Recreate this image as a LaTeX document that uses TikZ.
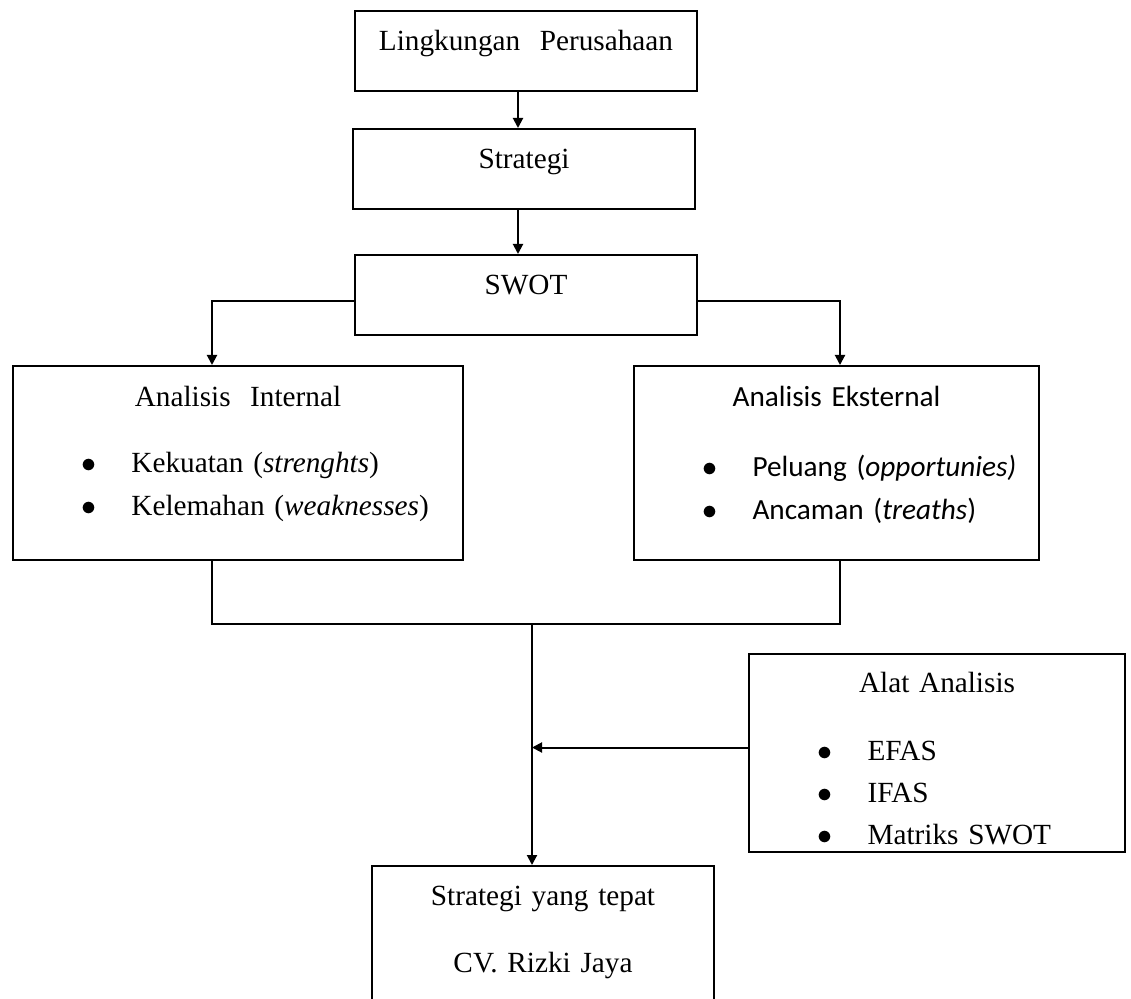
\documentclass[tikz,border=0pt]{standalone}
\usepackage{fontspec}
\setmainfont{Liberation Serif}
\newfontfamily\calibrifont{Carlito}
\usetikzlibrary{arrows.meta}

\newcommand{\bulletitem}[1]{\hspace*{30.4pt}\makebox[0pt]{$\bullet$}\hspace{17pt}#1\par}

\begin{document}
\begin{tikzpicture}[
				x=0.4pt, y=-0.4pt,
				font=\fontsize{11.7pt}{16.8pt}\selectfont,
				box/.style={draw, line width=0.8pt, inner sep=0pt},
				link/.style={line width=0.8pt},
				arr/.style={line width=0.8pt, -{Triangle[width=4pt, length=4pt]}}]
				
				\useasboundingbox (0,0) rectangle (1131,998);
				\clip (0,0) rectangle (1131,998); % the last box runs off the page
				
				\node[box, align=center, text width=136.8pt, text height=16pt, text depth=16pt] (lingkungan) at (526,51) {Lingkungan\ \ Perusahaan};
				\node[box, align=center, text width=136.8pt, text height=16pt, text depth=16pt] (strategi) at (524,169) {Strategi};
				\node[box, align=center, text width=136.8pt, text height=16pt, text depth=16pt] (swot) at (526,295) {SWOT};
				
				\node[box, text width=180pt, text height=16.4pt, text depth=61.2pt] (internal) at (238,463)
				{{\centering Analisis\ \ Internal\par}\vspace{9.6pt}
					\bulletitem{Kekuatan (\textit{strenghts})}
					\bulletitem{Kelemahan (\textit{weaknesses})}};
				\node[box, text width=162pt, text height=16.4pt, text depth=61.2pt] (external) at (836.5,463)
				{\calibrifont{\centering Analisis Eksternal\par}\vspace{11.2pt}
					\bulletitem{Peluang (\textit{opportunies)}}
					\bulletitem{Ancaman (\textit{treaths})}};
				
				\node[box, text width=150.4pt, text height=15.2pt, text depth=64pt] (alat) at (937,753)
				{{\centering Alat Analisis\par}\vspace{10.4pt}
					\bulletitem{EFAS}
					\bulletitem{IFAS}
					\bulletitem{Matriks SWOT}};
				\node[box, align=center, text width=136.8pt, text height=15.6pt, text depth=42pt] (hasil) at (543,938)
				{Strategi yang tepat\\[10pt] CV. Rizki Jaya};
				
				\coordinate (join) at (532,624);
				
				\draw[arr] ([xshift=-3.2pt]lingkungan.south) -- ([xshift=-3.2pt]lingkungan.south |- strategi.north);
				\draw[arr] ([xshift=-2.4pt]strategi.south) -- ([xshift=-2.4pt]strategi.south |- swot.north);
				\draw[arr] ([yshift=-2.4pt]swot.west) -| ([xshift=-10.4pt]internal.north);
				\draw[arr] ([yshift=-2.4pt]swot.east) -| ([xshift=1.4pt]external.north);
				\draw[link] ([xshift=-10.4pt]internal.south) |- (join) -| ([xshift=1.4pt]external.south);
				\draw[arr] (join) -- (join |- hasil.north);
				\draw[arr] ([yshift=2.2pt]alat.west) -- ([yshift=2.2pt]alat.west -| join);
			\end{tikzpicture}
\end{document}
